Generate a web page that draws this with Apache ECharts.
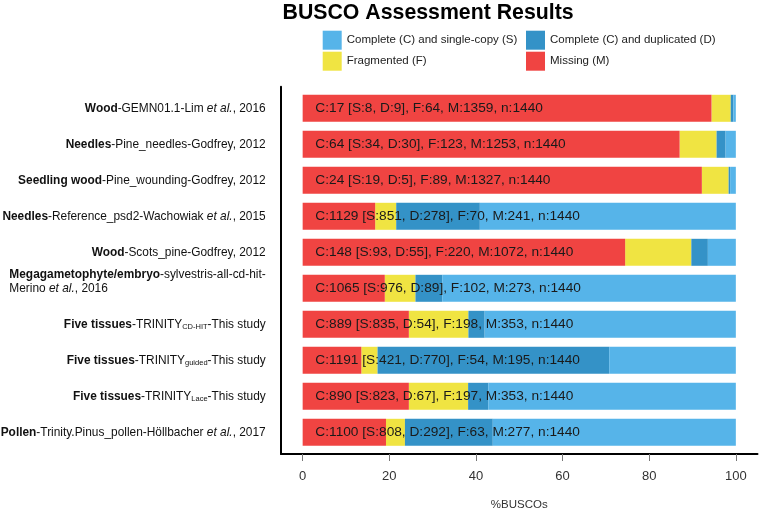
<!DOCTYPE html>
<html>
<head>
<meta charset="utf-8">
<script src="https://cdn.jsdelivr.net/npm/echarts@6/dist/echarts.min.js"></script>
<style>html,body{margin:0;padding:0;background:#fff;}#c{width:759px;height:509px;}</style>
</head>
<body>
<div id="c"></div>
<script>
const n = 1440;
const tissues = ['Wood', 'Needles', 'Seedling wood', 'Needles', 'Wood', 'Megagametophyte/embryo', 'Five tissues', 'Five tissues', 'Five tissues', 'Pollen'];
const sources = [
  '-GEMN01.1-Lim et al., 2016',
  '-Pine_needles-Godfrey, 2012',
  '-Pine_wounding-Godfrey, 2012',
  '-Reference_psd2-Wachowiak et al., 2015',
  '-Scots_pine-Godfrey, 2012',
  '-sylvestris-all-cd-hit-\nMerino et al., 2016',
  '-TRINITY[CD-HIT]-This study',
  '-TRINITY[guided]-This study',
  '-TRINITY[Lace]-This study',
  '-Trinity.Pinus_pollen-Höllbacher et al., 2017'
];
const categories = tissues.map((t, i) => t + sources[i]);
const complete   = [17, 64, 24, 1129, 148, 1065, 889, 1191, 890, 1100];
const single     = [8, 34, 19, 851, 93, 976, 835, 421, 823, 808];
const duplicated = [9, 30, 5, 278, 55, 89, 54, 770, 67, 292];
const fragmented = [64, 123, 89, 70, 220, 102, 198, 54, 197, 63];
const missing    = [1359, 1253, 1327, 241, 1072, 273, 353, 195, 353, 277];
const xTicks = [0, 20, 40, 60, 80, 100];

const names = {
  S: 'Complete (C) and single-copy (S)',
  D: 'Complete (C) and duplicated (D)',
  F: 'Fragmented (F)',
  M: 'Missing (M)'
};
const colors = { S: '#56B4E9', D: '#3492C7', F: '#F0E442', M: '#F04442' };
const FF = '"Liberation Sans", Arial, Helvetica, sans-serif';
const pct = arr => arr.map(v => v / n * 100);

function richLabel(i) {
  const parts = sources[i].split('\n');
  const fmtLine = s => {
    let out = '';
    const re = /(et al\.)|\[([^\]]+)\]/g;
    let last = 0, m;
    while ((m = re.exec(s)) !== null) {
      if (m.index > last) out += '{n|' + s.slice(last, m.index) + '}';
      if (m[1]) out += '{i|' + m[1] + '}';
      else out += '{s|' + m[2] + '}';
      last = re.lastIndex;
    }
    if (last < s.length) out += '{n|' + s.slice(last) + '}';
    return out;
  };
  let str = '{b|' + tissues[i] + '}' + fmtLine(parts[0]);
  for (let k = 1; k < parts.length; k++) str += '\n' + fmtLine(parts[k]);
  if (parts.length > 1) str += '\n{n| }';
  return str;
}

const chart = echarts.init(document.getElementById('c'), null, { renderer: 'canvas' });
const baseLabel = { fontFamily: FF, fontSize: 11.9, color: '#111', lineHeight: 13.5, align: 'left' };

function legendAt(key, left, top) {
  return {
    data: [names[key]], left: left, top: top, padding: 0, itemWidth: 19, itemHeight: 19,
    icon: 'rect', selectedMode: false,
    textStyle: { fontFamily: FF, fontSize: 11.5, color: '#222' }
  };
}

function barSeries(key, values, extra) {
  return Object.assign({
    name: names[key], type: 'bar', stack: 'total', xAxisIndex: 0, yAxisIndex: 0,
    data: pct(values), barWidth: '75%', silent: true,
    itemStyle: { color: colors[key] }, z: 2
  }, extra || {});
}

chart.setOption({
  animation: false,
  backgroundColor: '#fff',
  title: {
    text: 'BUSCO Assessment Results', left: 282.5, top: 3, padding: 0,
    textStyle: { fontFamily: FF, fontSize: 21.3, fontWeight: 'bold', color: '#000' }
  },
  legend: [
    legendAt('S', 322.7, 30.7),
    legendAt('D', 526, 30.7),
    legendAt('F', 322.7, 51.7),
    legendAt('M', 526, 51.7)
  ],
  grid: [
    { left: 281, right: 1.5, top: 90.3, height: 360, containLabel: false, outerBoundsMode: 'none' },
    { left: 281, right: 1.5, top: 86.7, height: 367.3, containLabel: false, outerBoundsMode: 'none' }
  ],
  xAxis: [
    { type: 'value', gridIndex: 0, min: -5, max: 105, show: false, axisLine: { onZero: false } },
    {
      type: 'value', gridIndex: 1, min: -5, max: 105,
      axisLine: { show: true, onZero: false, lineStyle: { color: '#000', width: 2 } },
      axisTick: { show: true, length: 7, lineStyle: { color: '#777', width: 1 }, customValues: xTicks },
      axisLabel: { show: true, customValues: xTicks, fontFamily: FF, fontSize: 13, color: '#333', margin: 16 },
      splitLine: { show: false },
      name: '%BUSCOs', nameLocation: 'middle', nameGap: 45,
      nameTextStyle: { fontFamily: FF, fontSize: 11.5, color: '#333' }
    }
  ],
  yAxis: [
    {
      type: 'category', gridIndex: 0, inverse: true, data: categories,
      axisLine: { show: false, onZero: false }, axisTick: { show: false },
      axisLabel: {
        margin: 15.3, align: 'right',
        formatter: (v, idx) => richLabel(idx),
        rich: {
          b: Object.assign({}, baseLabel, { fontWeight: 'bold' }),
          n: Object.assign({}, baseLabel),
          i: Object.assign({}, baseLabel, { fontStyle: 'italic' }),
          s: Object.assign({}, baseLabel, { fontSize: 7.5, verticalAlign: 'bottom' })
        }
      }
    },
    {
      type: 'category', gridIndex: 1, data: [''],
      axisLine: { show: true, onZero: false, lineStyle: { color: '#000', width: 2 } },
      axisTick: { show: false }, axisLabel: { show: false }, splitLine: { show: false }
    }
  ],
  series: [
    barSeries('M', missing, {
      z: 3,
      label: {
        show: true, position: 'insideLeft', distance: 12.7,
        fontFamily: FF, fontSize: 13.7, color: '#1a1a1a',
        formatter: p => {
          const i = p.dataIndex;
          return 'C:' + complete[i] + ' [S:' + single[i] + ', D:' + duplicated[i] + '], F:' + fragmented[i] + ', M:' + missing[i] + ', n:' + n;
        }
      }
    }),
    barSeries('F', fragmented),
    barSeries('D', duplicated),
    barSeries('S', single)
  ]
});
</script>
</body>
</html>
